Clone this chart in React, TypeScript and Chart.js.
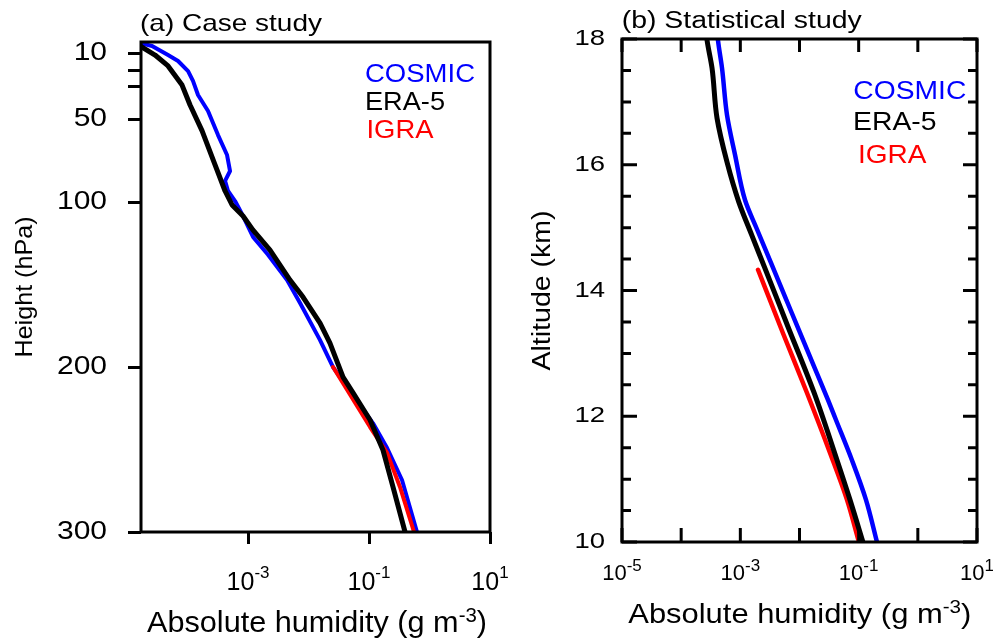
import React, { useEffect, useRef } from "react";
import { Chart, registerables } from "chart.js";

Chart.register(...registerables);

// ---------------- DATA ----------------
const seriesNames = ["COSMIC", "ERA-5", "IGRA"];
const seriesColors = ["#0000ff", "#000000", "#ff0000"];

// (a) Case study: pressure (hPa) vs absolute humidity (g m-3)
const caseCosmicPressure = [3.6, 5.4, 10.9, 14.5, 20.6, 26.6, 35.1, 44.8, 59.4, 71.5, 81.2, 87.2, 93.3, 99.4, 108.5, 121.2, 132, 147.3, 161.2, 183.7, 200.0, 214.0, 234.0, 249.1, 268.5, 300];
const caseCosmicHumidity = [1.64e-5, 2.59e-5, 4.76e-5, 6.97e-5, 1.02e-4, 1.23e-4, 1.49e-4, 2.18e-4, 3.19e-4, 4.5e-4, 5.04e-4, 4.17e-4, 4.67e-4, 6.1e-4, 8.26e-4, 1.21e-3, 2.14e-3, 4.42e-3, 7.24e-3, 1.55e-2, 2.54e-2, 4.68e-2, 0.116, 0.199, 0.351, 0.621];

const caseEraPressure = [5.4, 10.9, 17.5, 29.1, 41.2, 56.9, 77.5, 93.3, 101.8, 108.5, 117.0, 129.1, 147.3, 157.6, 173.4, 185.5, 206.1, 215.7, 232.1, 250.3, 272.7, 300];
const caseEraHumidity = [1.64e-5, 2.9e-5, 4.76e-5, 8.11e-5, 1.1e-4, 1.74e-4, 2.85e-4, 4.17e-4, 5.45e-4, 8.26e-4, 1.21e-3, 2.31e-3, 4.94e-3, 8.11e-3, 1.55e-2, 2.26e-2, 3.72e-2, 5.45e-2, 0.104, 0.17, 0.249, 0.394];

const caseIgraPressure = [200, 236.4, 252.1, 272.7, 300];
const caseIgraHumidity = [2.54e-2, 0.104, 0.199, 0.325, 0.555];

const caseYTicks = [10, 20, 30, 50, 100, 200, 300];
const caseYLabels = [10, 50, 100, 200, 300];
const caseXTicks = [1e-3, 1e-1, 10];

// (b) Statistical study: altitude (km) vs absolute humidity (g m-3)
const statCosmicAltitude = [10.0, 10.67, 11.3, 11.94, 12.26, 12.78, 13.69, 14.45, 14.99, 15.44, 16.16, 16.79, 17.54, 17.98, 18.2];
const statCosmicHumidity = [0.204, 0.133, 0.0771, 0.0414, 0.0303, 0.0178, 0.00706, 0.00326, 0.00188, 0.0012, 8.13e-4, 5.96e-4, 4.9e-4, 4.19e-4, 4.0e-4];

const statEraAltitude = [10.0, 10.67, 11.3, 12.37, 13.42, 14.36, 14.88, 15.41, 16.04, 16.74, 17.54, 17.98, 18.2];
const statEraHumidity = [0.118, 0.0714, 0.0431, 0.0177, 0.00641, 0.00259, 0.00156, 9.4e-4, 5.96e-4, 4.04e-4, 3.32e-4, 2.74e-4, 2.6e-4];

const statIgraAltitude = [10.0, 10.67, 11.42, 12.37, 13.32, 14.33];
const statIgraHumidity = [0.101, 0.0635, 0.0327, 0.0134, 0.00526, 0.00199];

const statYMajor = [10, 12, 14, 16, 18];
const statYMinor = [10.5, 11, 11.5, 12.5, 13, 13.5, 14.5, 15, 15.5, 16.5, 17, 17.5];
const statXTicks = [1e-5, 1e-4, 1e-3, 1e-2, 1e-1, 1, 10];
const statXLabels = [1e-5, 1e-3, 1e-1, 10];

// ---------------- HELPERS ----------------
const FONT = '"Liberation Sans", Arial, Helvetica, sans-serif';

type TxtOpts = { align?: string; stretch?: number; width?: number; color?: string; baseline?: string };

function txt(ctx: CanvasRenderingContext2D, s: string, x: number, y: number, size: number, o: TxtOpts = {}) {
  ctx.save();
  ctx.font = `${size}px ${FONT}`;
  ctx.fillStyle = o.color || "#000";
  ctx.textBaseline = (o.baseline || "alphabetic") as CanvasTextBaseline;
  const w0 = ctx.measureText(s).width;
  const sx = o.width ? o.width / w0 : o.stretch || 1;
  const w = w0 * sx;
  let left = x;
  if (o.align === "center") left = x - w / 2;
  else if (o.align === "right") left = x - w;
  ctx.translate(left, y);
  ctx.scale(sx, 1);
  ctx.textAlign = "left";
  ctx.fillText(s, 0, 0);
  ctx.restore();
  return w;
}

function measure(ctx: CanvasRenderingContext2D, s: string, size: number) {
  ctx.save();
  ctx.font = `${size}px ${FONT}`;
  const w = ctx.measureText(s).width;
  ctx.restore();
  return w;
}

function powLabel(ctx: CanvasRenderingContext2D, v: number, cx: number, baseY: number, size: number, expSize: number, rise: number, stretch: number) {
  const e = String(Math.round(Math.log10(v)));
  const w1 = measure(ctx, "10", size) * stretch;
  const w2 = measure(ctx, e, expSize) * stretch;
  const left = cx - (w1 + w2) / 2;
  txt(ctx, "10", left, baseY, size, { stretch });
  txt(ctx, e, left + w1, baseY - rise, expSize, { stretch });
}

function humidityTitle(ctx: CanvasRenderingContext2D, left: number, baseY: number, size: number, expSize: number, rise: number, targetW: number) {
  const a = "Absolute humidity (g m";
  const e = "-3";
  const b = ")";
  const nat = measure(ctx, a, size) + measure(ctx, e, expSize) + measure(ctx, b, size);
  const s = targetW / nat;
  let x = left;
  x += txt(ctx, a, x, baseY, size, { stretch: s });
  x += txt(ctx, e, x, baseY - rise, expSize, { stretch: s });
  txt(ctx, b, x, baseY, size, { stretch: s });
}

function rotTitle(ctx: CanvasRenderingContext2D, s: string, cx: number, cy: number, size: number, len: number) {
  ctx.save();
  ctx.translate(cx, cy);
  ctx.rotate(-Math.PI / 2);
  txt(ctx, s, 0, 0, size, { align: "center", baseline: "middle", width: len });
  ctx.restore();
}

function frame(ctx: CanvasRenderingContext2D, ca: any) {
  ctx.save();
  ctx.strokeStyle = "#000";
  ctx.lineWidth = 3;
  ctx.strokeRect(ca.left, ca.top, ca.right - ca.left, ca.bottom - ca.top);
  ctx.restore();
}

function pts(ys: number[], xs: number[]) {
  return ys.map((y, i) => ({ x: xs[i], y }));
}

function dataset(label: string, color: string, data: any[], width: number, order: number, smooth: boolean) {
  return {
    label,
    data,
    borderColor: color,
    backgroundColor: color,
    borderWidth: width,
    pointRadius: 0,
    tension: smooth ? 0.4 : 0,
    cubicInterpolationMode: smooth ? ("monotone" as const) : ("default" as const),
    fill: false,
    order,
    borderJoinStyle: "round" as const,
    borderCapStyle: "round" as const,
  };
}

// ---------------- CHARTS ----------------
function makeCase(canvas: HTMLCanvasElement) {
  const decor = {
    id: "caseDecor",
    afterDraw(chart: any) {
      const ctx = chart.ctx as CanvasRenderingContext2D;
      const ca = chart.chartArea;
      const xs = chart.scales.x;
      const ys = chart.scales.y;
      frame(ctx, ca);
      caseYLabels.forEach((v) => {
        txt(ctx, String(v), 107, ys.getPixelForValue(v), 25, { align: "right", baseline: "middle", stretch: 1.2 });
      });
      caseXTicks.forEach((v) => {
        powLabel(ctx, v, xs.getPixelForValue(v), 590, 25, 17, 12, 1.0);
      });
      humidityTitle(ctx, 147, 632, 30, 20, 10, 340);
      rotTitle(ctx, "Height (hPa)", 25, (ca.top + ca.bottom) / 2, 24, 141);
      txt(ctx, "(a) Case study", 140, 31, 24, { width: 182 });
      txt(ctx, seriesNames[0], 365, 81.7, 25.5, { width: 110, color: seriesColors[0] });
      txt(ctx, seriesNames[1], 365, 110, 25.5, { width: 80, color: seriesColors[1] });
      txt(ctx, seriesNames[2], 366.5, 138.3, 25.5, { width: 67, color: seriesColors[2] });
    },
  };
  return new Chart(canvas, {
    type: "line",
    data: {
      datasets: [
        dataset(seriesNames[1], seriesColors[1], pts(caseEraPressure, caseEraHumidity), 5, 0, false),
        dataset(seriesNames[2], seriesColors[2], pts(caseIgraPressure, caseIgraHumidity), 4, 1, false),
        dataset(seriesNames[0], seriesColors[0], pts(caseCosmicPressure, caseCosmicHumidity), 4, 2, false),
      ],
    },
    options: {
      animation: false,
      responsive: false,
      maintainAspectRatio: false,
      indexAxis: "y",
      layout: { padding: { left: 0, right: 40, top: 42, bottom: 0 } },
      plugins: { legend: { display: false }, tooltip: { enabled: false }, title: { display: false } },
      scales: {
        x: {
          type: "logarithmic",
          position: "bottom",
          min: 1.7e-5,
          max: 10,
          afterBuildTicks: (s: any) => {
            s.ticks = caseXTicks.map((v) => ({ value: v }));
          },
          afterFit: (s: any) => {
            s.height = 107;
          },
          ticks: { display: false },
          grid: { display: true, drawOnChartArea: false, drawTicks: true, tickLength: 12, tickWidth: 3, tickColor: "#000" },
          border: { display: false },
        },
        y: {
          type: "linear",
          position: "left",
          min: 3,
          max: 300,
          reverse: true,
          afterBuildTicks: (s: any) => {
            s.ticks = caseYTicks.map((v) => ({ value: v }));
          },
          afterFit: (s: any) => {
            s.width = 141;
          },
          ticks: { display: false },
          grid: { display: true, drawOnChartArea: false, drawTicks: true, tickLength: 13, tickWidth: 3, tickColor: "#000" },
          border: { display: false },
        },
      },
    } as any,
    plugins: [decor],
  });
}

function makeStat(canvas: HTMLCanvasElement) {
  const decor = {
    id: "statDecor",
    afterDraw(chart: any) {
      const ctx = chart.ctx as CanvasRenderingContext2D;
      const ca = chart.chartArea;
      const xs = chart.scales.x;
      const ys = chart.scales.y;
      ctx.save();
      ctx.strokeStyle = "#000";
      ctx.lineWidth = 3;
      ctx.beginPath();
      statYMajor.forEach((v) => {
        const y = ys.getPixelForValue(v);
        ctx.moveTo(ca.left, y);
        ctx.lineTo(ca.left + 15, y);
        ctx.moveTo(ca.right, y);
        ctx.lineTo(ca.right - 14, y);
      });
      statYMinor.forEach((v) => {
        const y = ys.getPixelForValue(v);
        ctx.moveTo(ca.left, y);
        ctx.lineTo(ca.left + 9, y);
        ctx.moveTo(ca.right, y);
        ctx.lineTo(ca.right - 9, y);
      });
      statXTicks.forEach((v) => {
        const x = xs.getPixelForValue(v);
        ctx.moveTo(x, ca.top);
        ctx.lineTo(x, ca.top + 13);
        ctx.moveTo(x, ca.bottom);
        ctx.lineTo(x, ca.bottom - 14);
      });
      ctx.stroke();
      ctx.restore();
      frame(ctx, ca);
      statYMajor.forEach((v) => {
        txt(ctx, String(v), 105, ys.getPixelForValue(v), 22, { align: "right", baseline: "middle", stretch: 1.25 });
      });
      statXLabels.forEach((v) => {
        powLabel(ctx, v, xs.getPixelForValue(v), 580, 22, 17, 9, 1.0);
      });
      humidityTitle(ctx, 128.3, 623.3, 28.5, 19, 10, 343);
      rotTitle(ctx, "Altitude (km)", 43, (ca.top + ca.bottom) / 2, 26, 160);
      txt(ctx, "(b) Statistical study", 121.7, 28, 23, { width: 240 });
      txt(ctx, seriesNames[0], 353.3, 99.3, 25.5, { width: 113, color: seriesColors[0] });
      txt(ctx, seriesNames[1], 353, 130, 25.5, { width: 83.5, color: seriesColors[1] });
      txt(ctx, seriesNames[2], 358, 163.3, 25.5, { width: 68.5, color: seriesColors[2] });
    },
  };
  return new Chart(canvas, {
    type: "line",
    data: {
      datasets: [
        dataset(seriesNames[1], seriesColors[1], pts(statEraAltitude, statEraHumidity), 5, 0, true),
        dataset(seriesNames[2], seriesColors[2], pts(statIgraAltitude, statIgraHumidity), 4.5, 1, true),
        dataset(seriesNames[0], seriesColors[0], pts(statCosmicAltitude, statCosmicHumidity), 4.5, 2, true),
      ],
    },
    options: {
      animation: false,
      responsive: false,
      maintainAspectRatio: false,
      indexAxis: "y",
      layout: { padding: { left: 0, right: 16, top: 39, bottom: 0 } },
      plugins: { legend: { display: false }, tooltip: { enabled: false }, title: { display: false } },
      scales: {
        x: {
          type: "logarithmic",
          position: "bottom",
          min: 1e-5,
          max: 10,
          afterFit: (s: any) => {
            s.height = 97;
          },
          ticks: { display: false },
          grid: { display: false },
          border: { display: false },
        },
        y: {
          type: "linear",
          position: "left",
          min: 10,
          max: 18,
          afterFit: (s: any) => {
            s.width = 122;
          },
          ticks: { display: false },
          grid: { display: false },
          border: { display: false },
        },
      },
    } as any,
    plugins: [decor],
  });
}

export default function App() {
  const leftRef = useRef<HTMLCanvasElement>(null);
  const rightRef = useRef<HTMLCanvasElement>(null);
  useEffect(() => {
    const a = makeCase(leftRef.current!);
    const b = makeStat(rightRef.current!);
    return () => {
      a.destroy();
      b.destroy();
    };
  }, []);
  return (
    <div style={{ position: "absolute", left: 0, top: 0, width: 993, height: 639, background: "#fff", overflow: "hidden" }}>
      <canvas ref={leftRef} width={530} height={639} style={{ position: "absolute", left: 0, top: 0, width: 530, height: 639 }} />
      <canvas ref={rightRef} width={493} height={639} style={{ position: "absolute", left: 500, top: 0, width: 493, height: 639 }} />
    </div>
  );
}
